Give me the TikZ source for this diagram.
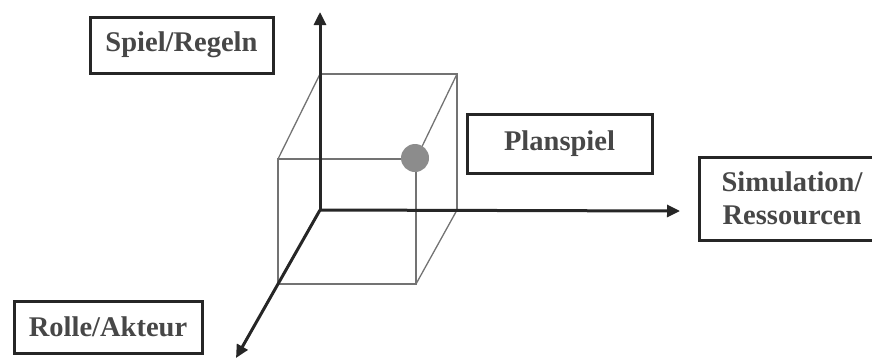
\documentclass[tikz,border=0pt]{standalone}
\usepackage{fontspec}
\setmainfont{Liberation Serif}
\usetikzlibrary{arrows.meta}
\begin{document}
\begin{tikzpicture}[x=1pt,y=-1pt,
  lbl/.style={draw=black!85, line width=3pt, text=black!72, font=\fontsize{28.5}{33}\selectfont\bfseries, align=center, inner sep=0pt},
  axis/.style={draw=black!85, line width=3pt, -{Triangle[length=13pt,width=12pt]}},
  cube/.style={draw=black!55, line width=1.3pt},
]
\useasboundingbox (0,0) rectangle (872,360);
% coordinates
\coordinate (O) at (320,210);
\coordinate (up) at (320,12);
\coordinate (right) at (680,211);
\coordinate (down) at (236,358);
\coordinate (bTL) at (320,74);
\coordinate (bTR) at (457,74);
\coordinate (bBR) at (457,210);
\coordinate (fTL) at (278,159);
\coordinate (fTR) at (416,159);
\coordinate (fBR) at (416,284);
\coordinate (fBL) at (278,284);
% cube
\draw[cube] (bTL) -- (bTR) -- (bBR);
\draw[cube] (fTL) -- (fTR) -- (fBR) -- (fBL) -- cycle;
\draw[cube] (bTL) -- (fTL);
\draw[cube] (bTR) -- (fTR);
\draw[cube] (bBR) -- (fBR);
% axes
\draw[axis] (O) -- (up);
\draw[axis] (O) -- (right);
\draw[axis] (O) -- (down);
% ball
\node[circle, fill=black!45, minimum size=28pt, inner sep=0pt] (ball) at (415,158) {};
% labels
\node[lbl, minimum width=183pt, minimum height=56pt] (spiel) at (181.5,45) {Spiel/Regeln};
\node[lbl, minimum width=185pt, minimum height=59pt] (plan) at (559.5,143.5) {Planspiel};
\node[lbl, minimum width=186pt, minimum height=83pt] (sim) at (792,198.5) {Simulation/\\Ressourcen};
\node[lbl, minimum width=188pt, minimum height=52pt] (rolle) at (108,327) {Rolle/Akteur};
\end{tikzpicture}
\end{document}
